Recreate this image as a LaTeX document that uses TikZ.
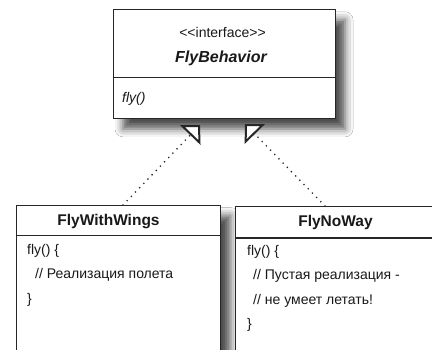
\documentclass[tikz,border=0pt]{standalone}
\usepackage{fontspec}
\setmainfont{Liberation Sans}[Ligatures=TeXOff]
\usetikzlibrary{arrows.meta,shadows.blur}
\begin{document}
\begin{tikzpicture}[x=1pt,y=-1pt,
  box/.style={draw=black!85, line width=1.1pt, fill=white, anchor=north west, inner sep=0pt,
    blur shadow={shadow xshift=10pt, shadow yshift=-10pt, shadow blur radius=8pt, shadow opacity=70}},
  divider/.style={draw=black!85, line width=1.1pt},
  txt/.style={inner sep=0pt, text=black!90, font=\fontsize{14}{16}\selectfont},
  hdr/.style={inner sep=0pt, text=black!90, font=\fontsize{15.5}{18}\selectfont\bfseries},
  realize/.style={line width=1.8pt, draw=black!85, line cap=round, dash pattern=on 0pt off 6pt,
    -{Triangle[length=14pt, width=28pt, fill=white, line width=2pt, line cap=butt, line join=miter]}}
]
\clip (0,0) rectangle (432,349);
\fill[white] (0,0) rectangle (432,349);

% top interface box
\node[box, minimum width=222pt, minimum height=109pt] (fb) at (112.5,9.3) {};
\draw[divider] (fb.west |- 0,77.7) -- (fb.east |- 0,77.7);
\node[txt, anchor=base] (stereo) at (222.5,37.5) {<<interface>>};
\node[hdr, anchor=base, font=\fontsize{16}{18}\selectfont\bfseries\itshape] (fbname) at (221,62) {FlyBehavior};
\node[txt, anchor=base west, font=\fontsize{14}{16}\selectfont\itshape] (fbfly) at (122,102) {fly()};

% left class
\node[box, minimum width=204pt, minimum height=170pt] (fw) at (16,205) {};
\draw[divider] (fw.west |- 0,235.5) -- (fw.east |- 0,235.5);
\node[hdr, anchor=base] (fwname) at (108.5,225) {FlyWithWings};
\node[txt, anchor=base west] (fw1) at (27,254) {fly() \{};
\node[txt, anchor=base west] (fw2) at (35,278.5) {// Реализация полета};
\node[txt, anchor=base west] (fw3) at (27,303) {\}};

% right class
\node[box, minimum width=205pt, minimum height=170pt] (fn) at (235,206) {};
\draw[divider] (fn.west |- 0,238) -- (fn.east |- 0,238);
\node[hdr, anchor=base] (fnname) at (335.5,226.5) {FlyNoWay};
\node[txt, anchor=base west] (fn1) at (247,255) {fly() \{};
\node[txt, anchor=base west] (fn2) at (253,279.5) {// Пустая реализация -};
\node[txt, anchor=base west] (fn3) at (253,304) {// не умеет летать!};
\node[txt, anchor=base west] (fn4) at (247,328.5) {\}};

% realization connectors
\coordinate (fwtop) at (123,205);
\coordinate (fntop) at (325,206);
\coordinate (tipl) at (200,125);
\coordinate (tipr) at (245,124);
\draw[realize] (fwtop) -- (tipl);
\draw[realize] (fntop) -- (tipr);
\end{tikzpicture}
\end{document}
